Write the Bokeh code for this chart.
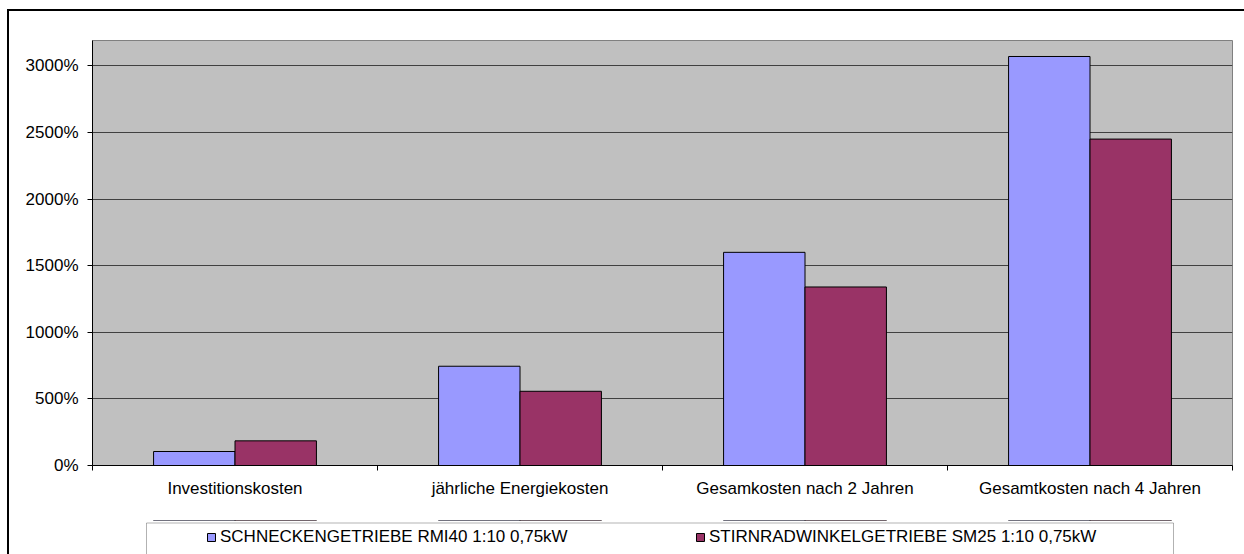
import numpy as np
from bokeh.plotting import figure
from bokeh.layouts import column
from bokeh.models import (Range1d, FixedTicker, PrintfTickFormatter, Legend, LegendItem,
                          ColumnDataSource, BoxAnnotation)
from bokeh.embed import file_html
from bokeh.resources import INLINE

categories = ["Investitionskosten", "jährliche Energiekosten",
              "Gesamkosten nach 2 Jahren", "Gesamtkosten nach 4 Jahren"]
series_names = ["SCHNECKENGETRIEBE RMI40 1:10 0,75kW",
                "STIRNRADWINKELGETRIEBE SM25 1:10 0,75kW"]
series_colors = ["#9999FF", "#993366"]
schnecke = [105, 745, 1600, 3070]
stirnrad = [185, 557, 1340, 2450]
y_ticks = [0, 500, 1000, 1500, 2000, 2500, 3000]

FONT = "Liberation Sans"
FS = "17px"

idx = np.arange(len(categories)) + 0.5
bw = 1 / 3.5
x_range = Range1d(0, len(categories))

# ---------------- main chart ----------------
p = figure(width=1235, height=489, output_backend="svg", toolbar_location=None,
           x_range=x_range, y_range=Range1d(0, 3190),
           min_border_left=83, min_border_right=12, min_border_top=29, min_border_bottom=35)
p.background_fill_color = "#C0C0C0"
p.border_fill_color = "white"
p.outline_line_color = "#808080"
p.outline_line_width = 1

src = ColumnDataSource(dict(x1=idx - bw / 2, x2=idx + bw / 2, a=schnecke, b=stirnrad))
p.vbar(x="x1", top="a", width=bw, source=src, fill_color=series_colors[0], line_color="black", line_width=1)
p.vbar(x="x2", top="b", width=bw, source=src, fill_color=series_colors[1], line_color="black", line_width=1)

xa = p.xaxis[0]
xa.ticker = FixedTicker(ticks=list(idx), minor_ticks=list(range(len(categories) + 1)))
xa.major_label_overrides = {float(i + 0.5): c for i, c in enumerate(categories)}
xa.major_tick_out = 0
xa.major_tick_in = 0
xa.minor_tick_out = 5
xa.minor_tick_in = 0
xa.minor_tick_line_color = "black"
xa.axis_line_color = "black"
xa.major_label_text_font = FONT
xa.major_label_text_font_size = FS
xa.major_label_text_color = "black"
xa.major_label_standoff = 8

ya = p.yaxis[0]
ya.ticker = FixedTicker(ticks=y_ticks, minor_ticks=[])
ya.formatter = PrintfTickFormatter(format="%d%%")
ya.major_tick_out = 5
ya.major_tick_in = 0
ya.minor_tick_out = 0
ya.major_tick_line_color = "black"
ya.axis_line_color = "black"
ya.major_label_text_font = FONT
ya.major_label_text_font_size = FS
ya.major_label_text_color = "black"
ya.major_label_standoff = 9

p.xgrid.grid_line_color = None
p.ygrid.grid_line_color = "#404040"
p.ygrid.grid_line_width = 1

# ---------------- legend strip ----------------
# same frame width as the chart; its y-range lies below 0 so the series
# renderers (needed for the legend swatches) stay out of view.
pl = figure(width=1235, height=54, output_backend="svg", toolbar_location=None,
            x_range=x_range, y_range=Range1d(-40, -6),
            x_axis_type=None, y_axis_type=None,
            min_border_left=83, min_border_right=12, min_border_top=20, min_border_bottom=0)
pl.background_fill_color = "white"
pl.border_fill_color = "white"
pl.outline_line_color = None
pl.grid.visible = False

l1 = pl.vbar(x="x1", top="a", width=bw, source=src, fill_color=series_colors[0], line_color="black", line_width=1)
l2 = pl.vbar(x="x2", top="b", width=bw, source=src, fill_color=series_colors[1], line_color="black", line_width=1)

# legend box (page px 146..1173 -> category units; frame starts at 92, 285 px per category)
px_per_cat = 1140 / len(categories)
pl.add_layout(BoxAnnotation(left=(146 - 92) / px_per_cat, right=(1173 - 92) / px_per_cat,
                            top=-8.5, bottom=-60, fill_color="white", fill_alpha=1,
                            line_color="black", line_width=1, level="underlay"))

legend = Legend(items=[LegendItem(label=series_names[0], renderers=[l1]),
                       LegendItem(label=series_names[1], renderers=[l2])],
                location=(114, 7), orientation="horizontal",
                padding=0, margin=0, spacing=35,
                glyph_width=10, glyph_height=10, label_standoff=4,
                label_width=440, label_height=20,
                label_text_font=FONT, label_text_font_size=FS, label_text_color="black",
                border_line_alpha=0, background_fill_alpha=0)
pl.add_layout(legend, "center")

layout = column(p, pl, spacing=0,
                styles={"margin-left": "7px", "margin-top": "9px",
                        "border-left": "2px solid #000", "border-top": "2px solid #000"})

open("out.html", "w").write(file_html(layout, INLINE))
